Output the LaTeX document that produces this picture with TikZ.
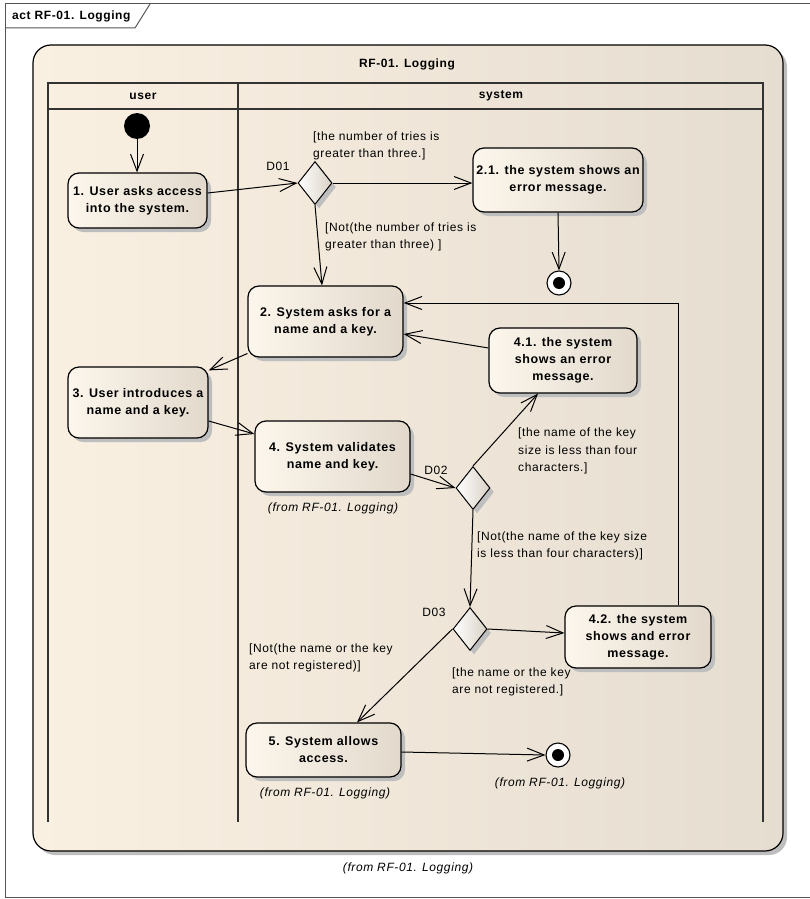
\documentclass[tikz,border=0pt]{standalone}
\usepackage{fontspec}
\setmainfont{Liberation Sans}[LetterSpace=5]
\usetikzlibrary{arrows.meta,shapes.geometric,shadows,calc}
\definecolor{contL}{HTML}{FAF0E2}
\definecolor{contR}{HTML}{E5DDD0}
\definecolor{nodeL}{HTML}{FCF6EC}
\definecolor{nodeR}{HTML}{E2D9CC}
\definecolor{decR}{HTML}{D9D1C5}
\definecolor{shadowc}{HTML}{BEBEBE}
\definecolor{framec}{HTML}{555555}
\definecolor{lanec}{HTML}{333333}
\newcommand\myNodeFont{\fontsize{12.5}{17}\selectfont\bfseries}
\newcommand\myLblFont{\fontsize{12}{17.5}\selectfont}
\newcommand\myFromFont{\fontsize{12}{14}\selectfont\itshape}
\begin{document}
\begin{tikzpicture}[x=1pt,y=-1pt,
  act/.style={draw=black, line width=1.2pt, rounded corners=11pt,
    left color=nodeL, right color=nodeR, align=center, font=\myNodeFont,
    inner sep=0pt,
    drop shadow={shadow xshift=4pt, shadow yshift=-4pt, fill=shadowc, opacity=1}},
  dec/.style={diamond, draw=black, line width=1pt, left color=white, right color=decR,
    minimum width=34pt, minimum height=43pt, inner sep=0pt,
    drop shadow={shadow xshift=4pt, shadow yshift=-4pt, fill=shadowc, opacity=1}},
  final/.style={circle, draw=black, line width=1.1pt, fill=white, minimum size=24pt, inner sep=0pt,
    path picture={\fill[black] (path picture bounding box.center) circle (6pt);}},
  flow/.style={draw=black, line width=1pt,
    -{Straight Barb[length=17pt,width=13pt,line width=1pt]}},
  lbl/.style={font=\myLblFont, align=left, inner sep=0pt, anchor=west},
  dlbl/.style={font=\myLblFont, inner sep=0pt},
  from/.style={font=\myFromFont, inner sep=0pt},
  hdr/.style={font=\fontsize{12}{14}\selectfont\bfseries, inner sep=0pt}
]
\useasboundingbox (0,0) rectangle (810,899);
\fill[white] (0,0) rectangle (810,899);

% outer frame
\draw[draw=framec, line width=1pt] (815,4) -- (5,4) -- (5,897) -- (815,897);
\draw[draw=framec, line width=1pt] (5,28) -- (135,28) -- (150,4);
\node[hdr, anchor=west] (title) at (12,16) {act RF-01. Logging};

% container
\path[draw=black, line width=1.2pt, rounded corners=18pt, left color=contL, right color=contR,
  drop shadow={shadow xshift=4pt, shadow yshift=-4pt, fill=shadowc, opacity=1}]
  (33,45) rectangle (783,851);
\node[hdr] (ctitle) at (407,64) {RF-01. Logging};

% swimlanes
\draw[draw=lanec, line width=1.5pt] (48,822) -- (48,83) -- (763,83) -- (763,822);
\draw[draw=lanec, line width=1.5pt] (48,109) -- (763,109);
\draw[draw=lanec, line width=1.5pt] (238,83) -- (238,822);
\node[hdr] (luser) at (143,96) {user};
\node[hdr] (lsys) at (501,96) {system};

% initial and final nodes
\node[circle, fill=black, minimum size=26pt, inner sep=0pt] (init) at (137,126) {};
\node[final] (f1) at (559,283) {};
\node[final] (f2) at (558,755) {};

% actions
\node[act, minimum width=139pt, minimum height=55pt] (n1) at (137.5,200.5) {1. User asks access\\into the system.};
\node[act, minimum width=170pt, minimum height=64pt] (n21) at (558,180) {2.1. the system shows an\\error message.};
\node[act, minimum width=155pt, minimum height=71pt] (n2) at (325.5,321.5) {2. System asks for a\\name and a key.};
\node[act, minimum width=148pt, minimum height=65pt] (n41) at (563,360.5) {4.1. the system\\shows an error\\message.};
\node[act, minimum width=140pt, minimum height=71pt] (n3) at (138,402.5) {3. User introduces a\\name and a key.};
\node[act, minimum width=155pt, minimum height=71pt] (n4) at (332.5,456.5) {4. System validates\\name and key.};
\node[act, minimum width=146pt, minimum height=62pt] (n42) at (638,637) {4.2. the system\\shows and error\\message.};
\node[act, minimum width=155pt, minimum height=54pt] (n5) at (323.5,750) {5. System allows\\access.};

% decisions
\node[dec] (d1) at (315,183) {};
\node[dec] (d2) at (473,488) {};
\node[dec] (d3) at (470,629) {};
\node[dlbl] (d1l) at (278,166) {D01};
\node[dlbl] (d2l) at (436,470) {D02};
\node[dlbl] (d3l) at (434,612) {D03};

% flows
\draw[flow] (init.south) -- (init.south |- n1.north);
\draw[flow] ([yshift=7.5pt]n1.east) -- (d1.west);
\draw[flow] (d1.east) -- (d1.east -| n21.west);
\draw[flow] (n21.south) -- (f1.north);
\draw[flow] (d1.south) -- ([xshift=-3.5pt]n2.north);
\draw[flow] ([yshift=-32pt]n2.west) -- ([yshift=-4pt]n3.north east);
\draw[flow] ([yshift=-18.5pt]n3.east) -- ([yshift=22.5pt]n4.west);
\draw[flow] ([yshift=-17.5pt]n4.east) -- (d2.west);
\draw[flow] (d2.north) -- ([xshift=-25pt]n41.south);
\draw[flow] ([yshift=12.5pt]n41.west) -- ([yshift=-12.5pt]n2.east);
\draw[flow] (d2.south) -- (d3.north);
\draw[flow] (d3.east) -- ([yshift=4pt]n42.west);
\draw[flow] ([xshift=40pt]n42.north) |- ([yshift=18.5pt]n2.east);
\draw[flow] (d3.west) -- ([xshift=33.5pt]n5.north);
\draw[flow] ([yshift=-2pt]n5.east) -- (f2.west);

% guards
\node[lbl] (g1) at (313,146) {[the number of tries is\\greater than three.]};
\node[lbl] (g2) at (325,237) {[Not(the number of tries is\\greater than three) ]};
\node[lbl] (g3) at (518,451) {[the name of the key\\size is less than four\\characters.]};
\node[lbl] (g4) at (477,546) {[Not(the name of the key size\\is less than four characters)]};
\node[lbl] (g5) at (249,658) {[Not(the name or the key\\are not registered)]};
\node[lbl] (g6) at (452,682) {[the name or the key\\are not registered.]};

% from labels
\node[from] (fr4) at (333,508) {(from RF-01. Logging)};
\node[from] (fr5) at (325,793) {(from RF-01. Logging)};
\node[from] (frf) at (560,783) {(from RF-01. Logging)};
\node[from] (frc) at (408,868) {(from RF-01. Logging)};
\end{tikzpicture}
\end{document}
